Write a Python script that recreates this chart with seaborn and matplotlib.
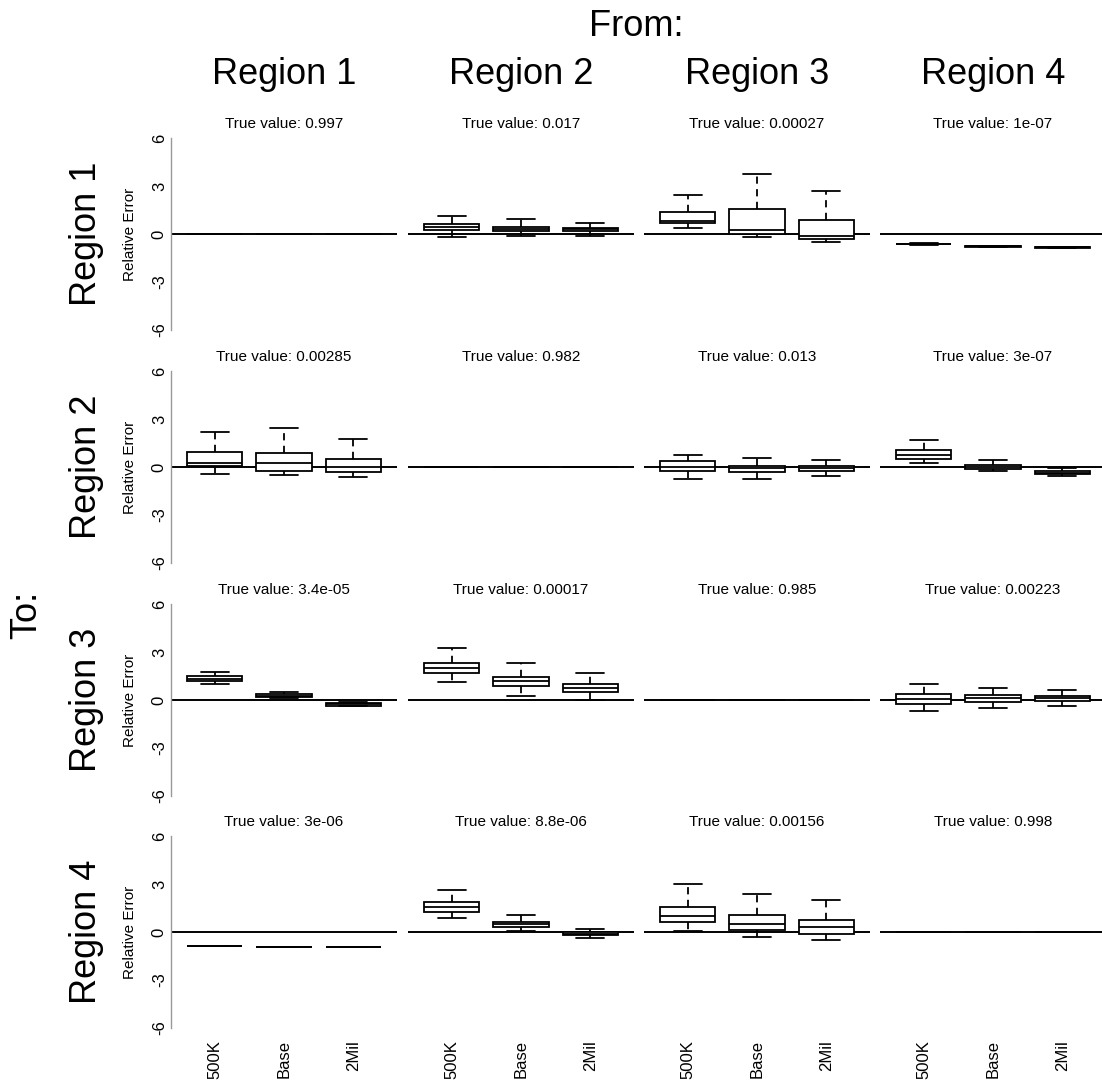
import numpy as np
import pandas as pd
import matplotlib
matplotlib.use("Agg")
import matplotlib.pyplot as plt
import seaborn as sns

# ---------------- data ----------------
regions = ["Region 1", "Region 2", "Region 3", "Region 4"]
scenarios = ["500K", "Base", "2Mil"]
true_values = [
    ["0.997", "0.017", "0.00027", "1e-07"],
    ["0.00285", "0.982", "0.013", "3e-07"],
    ["3.4e-05", "0.00017", "0.985", "0.00223"],
    ["3e-06", "8.8e-06", "0.00156", "0.998"],
]
# five-number summaries [whisker low, Q1, median, Q3, whisker high]
# per "From" region (columns), for 500K, Base, 2Mil
to_region1 = [
    [[0, 0, 0, 0, 0], [0, 0, 0, 0, 0], [0, 0, 0, 0, 0]],
    [[-0.19, 0.25, 0.43, 0.62, 1.12], [-0.10, 0.18, 0.30, 0.45, 0.93], [-0.10, 0.20, 0.30, 0.38, 0.70]],
    [[0.37, 0.68, 0.80, 1.37, 2.44], [-0.20, 0.00, 0.23, 1.56, 3.75], [-0.53, -0.33, -0.10, 0.87, 2.69]],
    [[-0.66, -0.64, -0.62, -0.60, -0.58], [-0.80, -0.79, -0.78, -0.77, -0.76], [-0.86, -0.85, -0.84, -0.83, -0.82]],
]
to_region2 = [
    [[-0.42, 0.05, 0.25, 0.92, 2.19], [-0.50, -0.23, 0.27, 0.86, 2.42], [-0.62, -0.33, 0.03, 0.52, 1.77]],
    [[0, 0, 0, 0, 0], [0, 0, 0, 0, 0], [0, 0, 0, 0, 0]],
    [[-0.75, -0.28, 0.00, 0.37, 0.75], [-0.75, -0.30, -0.05, 0.06, 0.56], [-0.56, -0.25, -0.05, 0.06, 0.43]],
    [[0.25, 0.50, 0.75, 1.06, 1.69], [-0.25, -0.12, 0.00, 0.12, 0.44], [-0.56, -0.44, -0.35, -0.25, -0.06]],
]
to_region3 = [
    [[1.00, 1.19, 1.30, 1.50, 1.75], [0.12, 0.19, 0.28, 0.37, 0.50], [-0.40, -0.37, -0.28, -0.19, -0.12]],
    [[1.12, 1.69, 2.00, 2.31, 3.25], [0.25, 0.87, 1.19, 1.44, 2.31], [0.00, 0.50, 0.75, 1.00, 1.69]],
    [[0, 0, 0, 0, 0], [0, 0, 0, 0, 0], [0, 0, 0, 0, 0]],
    [[-0.70, -0.25, 0.05, 0.40, 1.00], [-0.50, -0.10, 0.10, 0.30, 0.75], [-0.35, -0.05, 0.10, 0.25, 0.60]],
]
to_region4 = [
    [[-0.90, -0.89, -0.88, -0.87, -0.86], [-0.96, -0.955, -0.95, -0.945, -0.94], [-0.96, -0.955, -0.95, -0.945, -0.94]],
    [[0.87, 1.25, 1.55, 1.87, 2.60], [0.05, 0.34, 0.50, 0.62, 1.06], [-0.37, -0.20, -0.10, 0.00, 0.19]],
    [[0.06, 0.62, 1.00, 1.56, 3.00], [-0.30, 0.12, 0.50, 1.06, 2.37], [-0.50, -0.12, 0.30, 0.75, 2.00]],
    [[0, 0, 0, 0, 0], [0, 0, 0, 0, 0], [0, 0, 0, 0, 0]],
]
all_rows = [to_region1, to_region2, to_region3, to_region4]
y_ticks = [-6, -3, 0, 3, 6]

# ---------------- figure ----------------
sns.set_theme(style="white")
plt.rcParams["font.family"] = ["Liberation Sans", "DejaVu Sans"]
plt.rcParams["text.color"] = "black"
plt.rcParams["axes.labelcolor"] = "black"
plt.rcParams["xtick.color"] = "black"
plt.rcParams["ytick.color"] = "black"
plt.rcParams["axes.titlecolor"] = "black"

W, H = 1102, 1089
fig = plt.figure(figsize=(W / 100, H / 100), dpi=100)

col_left = [171, 408, 644, 880]
col_w = 226
row_top = [138, 371, 604, 836]
row_h = 192

for r in range(4):
    for c in range(4):
        ax = fig.add_axes([col_left[c] / W, 1 - (row_top[r] + row_h) / H, col_w / W, row_h / H])
        recs = []
        for k, s in enumerate(scenarios):
            for v in all_rows[r][c][k]:
                recs.append({"scenario": s, "value": v})
        df = pd.DataFrame(recs)
        sns.boxplot(
            data=df, x="scenario", y="value", order=scenarios, ax=ax,
            whis=(0, 100), width=0.8, color="white", linecolor="black",
            saturation=1, linewidth=1.3, fliersize=0,
            whiskerprops={"linestyle": (0, (4, 3))},
            medianprops={"linewidth": 1.3},
        )
        ax.axhline(0, color="black", lw=1.4, zorder=0.5)
        ax.set_xlim(-0.63, 2.63)
        ax.set_ylim(-6, 6)
        ax.set_xlabel("")
        ax.set_ylabel("")
        ax.set_title("True value: " + true_values[r][c], fontsize=11, pad=7, color="black")
        for sp in ["top", "right", "bottom"]:
            ax.spines[sp].set_visible(False)
        if c == 0:
            ax.spines["left"].set_color("#999999")
            ax.spines["left"].set_linewidth(1.0)
            ax.set_yticks(y_ticks)
            ax.set_yticklabels([str(t) for t in y_ticks], rotation=90, va="center", fontsize=12)
            ax.tick_params(axis="y", length=0, pad=3, colors="black")
        else:
            ax.spines["left"].set_visible(False)
            ax.set_yticks([])
        if r == 3:
            ax.set_xticks(range(3))
            ax.set_xticklabels(scenarios, rotation=90, fontsize=12)
            ax.tick_params(axis="x", length=0, pad=9, colors="black")
        else:
            ax.set_xticks([])
        if c == 0:
            fig.text(130 / W, 1 - (row_top[r] + row_h / 2) / H, "Relative Error",
                     rotation=90, ha="center", va="center", fontsize=11, color="black")
            fig.text(87 / W, 1 - (row_top[r] + row_h / 2) / H, regions[r],
                     rotation=90, ha="center", va="center", fontsize=26, color="black")

for c in range(4):
    fig.text((col_left[c] + col_w / 2) / W, 1 - 75 / H, regions[c],
             ha="center", va="center", fontsize=26, color="black")

fig.text(636 / W, 1 - 27 / H, "From:", ha="center", va="center", fontsize=26, color="black")
fig.text(27 / W, 1 - 615 / H, "To:", rotation=90, ha="center", va="center", fontsize=26, color="black")

fig.savefig("out.png", dpi=100)
